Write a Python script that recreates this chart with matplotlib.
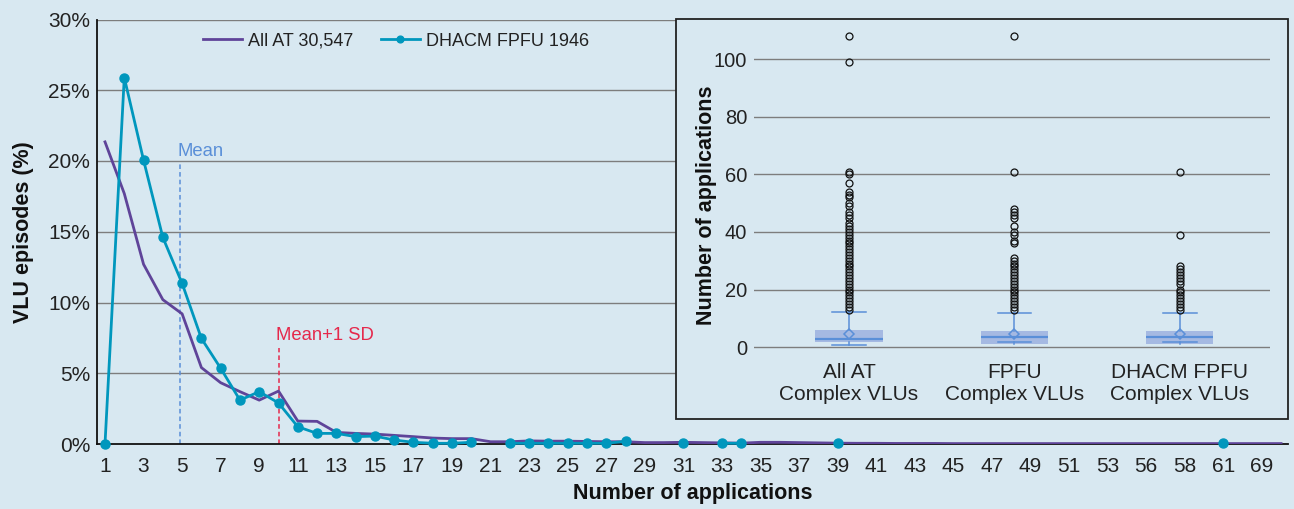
import numpy as np
import matplotlib
matplotlib.use("Agg")
import matplotlib.pyplot as plt
from matplotlib.patches import Rectangle

plt.rcParams['font.family'] = ['Liberation Sans', 'DejaVu Sans']

# ---------------- data ----------------
categories = list(range(1, 54)) + [55, 56, 57, 58, 60, 61, 65, 69, 108]
tick_labels = [str(c) for c in categories]

all_at = [21.35, 17.7, 12.7, 10.2, 9.2, 5.4, 4.33, 3.7, 3.1, 3.74,
          1.62, 1.6, 0.82, 0.75, 0.7, 0.61, 0.52, 0.42, 0.38, 0.38,
          0.16, 0.16, 0.22, 0.2, 0.2, 0.18, 0.16, 0.16, 0.1, 0.1,
          0.12, 0.1, 0.08, 0.06, 0.12, 0.12, 0.1, 0.08, 0.06, 0.05,
          0.05, 0.04, 0.04, 0.04, 0.03, 0.03, 0.03, 0.03, 0.03, 0.03,
          0.03, 0.03, 0.03, 0.03, 0.03, 0.03, 0.03, 0.03, 0.03, 0.03,
          0.03, 0.03]
nan = np.nan
dhacm = [0, 25.9, 20.06, 14.6, 11.35, 7.46, 5.35, 3.1, 3.7, 2.9,
         1.22, 0.75, 0.75, 0.52, 0.56, 0.28, 0.12, 0.05, 0.05, 0.12,
         nan, 0.05, 0.05, 0.05, 0.05, 0.05, 0.05, 0.19, nan, nan,
         0.05, nan, 0.05, 0.05, nan, nan, nan, nan, 0.05, nan,
         nan, nan, nan, nan, nan, nan, nan, nan, nan, nan,
         nan, nan, nan, nan, nan, nan, nan, nan, 0.05, nan,
         nan, nan]
mean_pos = 3.9          # in category-index units
mean_sd_pos = 9.0
mean_top = 19.8
mean_sd_top = 6.8
yticks = [0, 5, 10, 15, 20, 25, 30]

# inset box plot data
box_labels = ["All AT\nComplex VLUs", "FPFU\nComplex VLUs", "DHACM FPFU\nComplex VLUs"]
q1 = [1.62, 1.16, 1.16]
q3 = [6.0, 5.67, 5.67]
med = [2.8, 3.35, 3.35]
mean = [4.5, 4.6, 4.6]
whislo = [0.6, 1.6, 1.6]
whishi = [12.1, 11.8, 11.8]
fliers_all = list(range(13, 44)) + [45, 46, 47, 49, 50, 52, 53, 54, 57, 60, 61, 99, 108]
fliers_fpfu = list(range(13, 32)) + [36, 37, 39, 40, 42, 45, 46, 47, 48, 61, 108]
fliers_dhacm = list(range(13, 21)) + list(range(22, 29)) + [39, 61]
inset_yticks = [0, 20, 40, 60, 80, 100]

# ---------------- style ----------------
W, H = 1294, 509
BG = '#d8e8f1'
PURPLE = '#5f4499'
TEAL = '#0097bd'
MEANC = '#5a8fd8'
SDC = '#e5294c'
GRID = '#7d7d7d'
BOXC = '#5a8fd8'
BOXFILL = '#a3b7e2'
TXT = '#222222'
FS_TICK = 15
FS_LAB = 15.5
FS_LEG = 13
FS_ANN = 13.3
FS_ITICK = 14.5
FS_ICAT = 15

fig = plt.figure(figsize=(W / 100, H / 100), dpi=100, facecolor=BG)

def fx(px):
    return px / W

def fy(py):
    return 1 - py / H

# main axes: x 97..1288 px, y 19.5..444 px
ax = fig.add_axes([fx(97), fy(444), fx(1288 - 97), (444 - 19.5) / H])
ax.set_facecolor(BG)
x = np.arange(len(categories))
step = 19.28
ax.set_xlim(-8 / step, (1288 - 105) / step)
ax.set_ylim(0, 30)

for yv in yticks[1:]:
    ax.axhline(yv, color=GRID, lw=1.0, zorder=1)

ax.plot(x, all_at, color=PURPLE, lw=2.0, zorder=3, label='All AT 30,547')
ax.plot(x, dhacm, color=TEAL, lw=2.0, marker='o', ms=6.5, zorder=4,
        clip_on=False, label='DHACM FPFU 1946')

ax.vlines(mean_pos, 0, mean_top, colors=MEANC, linestyles=(0, (3, 2)), lw=1.1, zorder=2)
ax.text(mean_pos - 0.15, mean_top + 0.25, 'Mean', color=MEANC, fontsize=FS_ANN,
        ha='left', va='bottom')
ax.vlines(mean_sd_pos, 0, mean_sd_top, colors=SDC, linestyles=(0, (3, 2)), lw=1.1, zorder=2)
ax.text(mean_sd_pos - 0.15, mean_sd_top + 0.25, 'Mean+1 SD', color=SDC, fontsize=FS_ANN,
        ha='left', va='bottom')

ax.set_xticks(x[::2])
ax.set_xticklabels(tick_labels[::2])
ax.set_yticks(yticks)
ax.set_yticklabels([f'{v}%' for v in yticks])
ax.tick_params(axis='both', length=0, labelsize=FS_TICK, colors=TXT)
ax.tick_params(axis='x', pad=9.5)
ax.tick_params(axis='y', pad=5)
for s in ['top', 'right']:
    ax.spines[s].set_visible(False)
for s in ['left', 'bottom']:
    ax.spines[s].set_color('#111111')
    ax.spines[s].set_linewidth(1.3)
ax.set_xlabel('Number of applications', fontsize=FS_LAB, fontweight='bold',
              labelpad=5, color='#111111')
ax.set_ylabel('VLU episodes (%)', fontsize=FS_LAB, fontweight='bold', color='#111111')
ax.yaxis.set_label_coords((34 - 97) / 1191, 0.5)

ax.legend(loc='center left', bbox_to_anchor=(fx(187), fy(41)),
          bbox_transform=fig.transFigure, ncol=2, frameon=False, fontsize=FS_LEG,
          handlelength=2.15, handletextpad=0.35, columnspacing=1.5, markerscale=0.75,
          labelcolor=TXT)

# inset frame
fig.patches.append(Rectangle((fx(676), fy(419)), fx(1288 - 676), (419 - 19) / H,
                             transform=fig.transFigure, facecolor=BG,
                             edgecolor='#222222', lw=1.3, zorder=5))

# inset axes
iax = fig.add_axes([fx(754), fy(360), fx(1270 - 754), (360 - 24.8) / H], zorder=6)
iax.set_facecolor('none')
iax.set_xlim(0.426, 3.544)
iax.set_ylim(-4.5, 112)
for yv in inset_yticks:
    iax.axhline(yv, color=GRID, lw=1.0, zorder=1)

stats = []
for i, fl in enumerate([fliers_all, fliers_fpfu, fliers_dhacm]):
    stats.append(dict(q1=q1[i], q3=q3[i], med=med[i], mean=mean[i],
                      whislo=whislo[i], whishi=whishi[i], fliers=fl, label=box_labels[i]))
iax.bxp(stats, positions=[1, 2, 3], widths=0.405, capwidths=0.2, showmeans=True,
        patch_artist=True,
        boxprops=dict(facecolor=BOXFILL, edgecolor='none', lw=0, alpha=0.95),
        medianprops=dict(color=BOXC, lw=1.6),
        whiskerprops=dict(color=BOXC, lw=1.1),
        capprops=dict(color=BOXC, lw=1.1),
        meanprops=dict(marker='D', markerfacecolor='none', markeredgecolor=BOXC,
                       markersize=5.5, markeredgewidth=1.1),
        flierprops=dict(marker='o', markerfacecolor='none', markeredgecolor='#111111',
                        markersize=5, markeredgewidth=0.9))
iax.set_yticks(inset_yticks)
iax.tick_params(axis='y', length=0, labelsize=FS_ITICK, colors=TXT, pad=5)
iax.tick_params(axis='x', length=0, labelsize=FS_ICAT, colors=TXT, pad=2)
for s in iax.spines.values():
    s.set_visible(False)
iax.set_ylabel('Number of applications', fontsize=FS_LAB, fontweight='bold',
               color='#111111')
iax.yaxis.set_label_coords((717 - 754) / 516, (360 - 205) / 335.2)

fig.savefig('out.png', dpi=100, facecolor=BG)
